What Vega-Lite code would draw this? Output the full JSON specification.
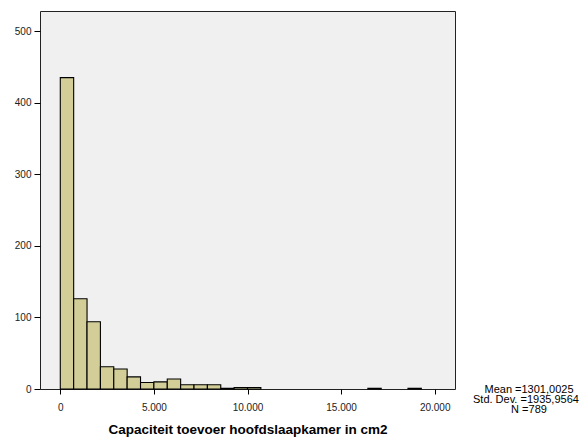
{
  "$schema": "https://vega.github.io/schema/vega-lite/v6.json",
  "width": 415,
  "height": 378,
  "autosize": {"type": "none"},
  "padding": {"left": 40, "top": 11, "right": 124, "bottom": 50},
  "background": "white",
  "config": {
    "view": {"fill": "#f0f0f0", "stroke": "#222222", "strokeWidth": 1},
    "font": "Liberation Sans"
  },
  "layer": [
    {
      "data": {
        "values": [
          {"bin_start": 0, "bin_end": 714.29, "count": 435},
          {"bin_start": 714.29, "bin_end": 1428.57, "count": 126},
          {"bin_start": 1428.57, "bin_end": 2142.86, "count": 94},
          {"bin_start": 2142.86, "bin_end": 2857.14, "count": 31},
          {"bin_start": 2857.14, "bin_end": 3571.43, "count": 28},
          {"bin_start": 3571.43, "bin_end": 4285.71, "count": 17},
          {"bin_start": 4285.71, "bin_end": 5000, "count": 9},
          {"bin_start": 5000, "bin_end": 5714.29, "count": 10},
          {"bin_start": 5714.29, "bin_end": 6428.57, "count": 14},
          {"bin_start": 6428.57, "bin_end": 7142.86, "count": 6},
          {"bin_start": 7142.86, "bin_end": 7857.14, "count": 6},
          {"bin_start": 7857.14, "bin_end": 8571.43, "count": 6},
          {"bin_start": 8571.43, "bin_end": 9285.71, "count": 1},
          {"bin_start": 9285.71, "bin_end": 10000, "count": 2},
          {"bin_start": 10000, "bin_end": 10714.29, "count": 2},
          {"bin_start": 16428.57, "bin_end": 17142.86, "count": 1},
          {"bin_start": 18571.43, "bin_end": 19285.71, "count": 1}
        ]
      },
      "mark": {"type": "rect", "fill": "#d3ce97", "stroke": "black", "strokeWidth": 1.1},
      "encoding": {
        "x": {
          "field": "bin_start",
          "type": "quantitative",
          "title": "Capaciteit toevoer hoofdslaapkamer in cm2",
          "scale": {"domain": [-1084, 21084], "nice": false, "zero": false},
          "axis": {
            "values": [0, 5000, 10000, 15000, 20000],
            "labelExpr": "replace(format(datum.value, ','), ',', '.')",
            "domain": false,
            "grid": false,
            "tickSize": 5,
            "tickColor": "black",
            "labelFontSize": 10,
            "labelColor": "#222222",
            "labelPadding": 8,
            "titleFontSize": 13.5,
            "titleFontWeight": "bold",
            "titleColor": "black",
            "titlePadding": 10
          }
        },
        "x2": {"field": "bin_end"},
        "y": {
          "field": "count",
          "type": "quantitative",
          "title": null,
          "scale": {"domain": [0, 528], "nice": false},
          "axis": {
            "values": [0, 100, 200, 300, 400, 500],
            "domain": false,
            "grid": false,
            "tickSize": 6,
            "tickColor": "black",
            "labelFontSize": 10,
            "labelColor": "#222222",
            "labelPadding": 3
          }
        },
        "y2": {"datum": 0}
      }
    },
    {
      "data": {
        "values": [
          {"line": "Mean =1301,0025", "xpos": 25037, "ypos": -5.9},
          {"line": "Std. Dev. =1935,95641", "xpos": 25037, "ypos": -19.8},
          {"line": "N =789", "xpos": 25037, "ypos": -33.8}
        ]
      },
      "mark": {"type": "text", "align": "center", "baseline": "alphabetic", "fontSize": 11, "color": "black"},
      "encoding": {
        "x": {"field": "xpos", "type": "quantitative", "title": "Capaciteit toevoer hoofdslaapkamer in cm2"},
        "y": {"field": "ypos", "type": "quantitative", "title": null},
        "text": {"field": "line"}
      }
    }
  ]
}
